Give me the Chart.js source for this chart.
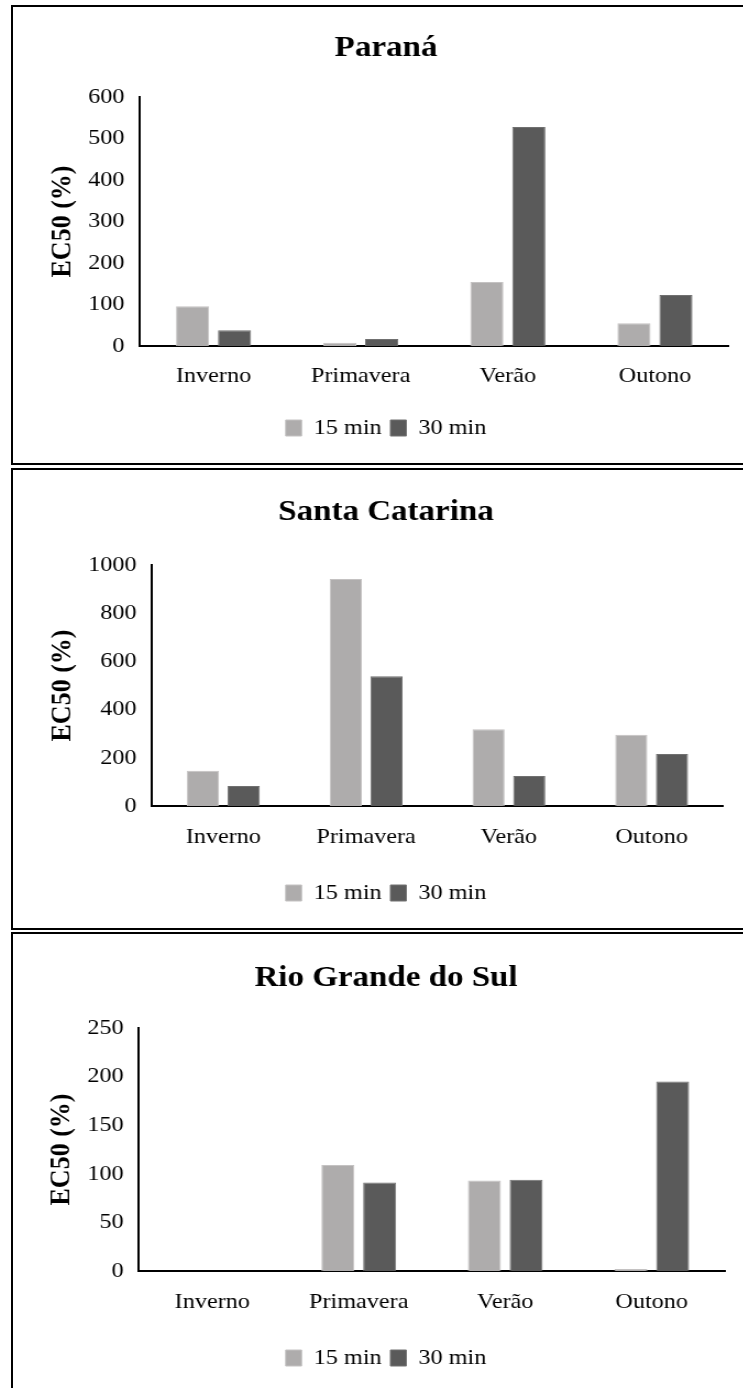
<!DOCTYPE html>
<html>
<head>
    <title>EC50 por estação</title>
    <script src="https://cdn.jsdelivr.net/npm/chart.js"></script>
    <style>
        html, body { margin: 0; padding: 0; background: #fff; }
        body { position: relative; width: 743px; height: 1388px; overflow: hidden; }
        .panel { position: absolute; left: 11px; width: 800px; border: 2px solid #000; box-sizing: border-box; }
        .wrap { position: absolute; left: 12px; transform: scaleX(1.1); transform-origin: 0 0; }
        .wrap canvas { display: block; }
    </style>
</head>
<body>
    <div class="panel" style="top:5px; height:460px;"></div>
    <div class="panel" style="top:468px; height:462px;"></div>
    <div class="panel" style="top:932px; height:500px;"></div>

    <div class="wrap" style="top:6px;"><canvas id="chartPR" width="680" height="458"></canvas></div>
    <div class="wrap" style="top:470px;"><canvas id="chartSC" width="680" height="458"></canvas></div>
    <div class="wrap" style="top:934px;"><canvas id="chartRS" width="680" height="454"></canvas></div>

    <script>
        // data
        const categories = ['Inverno', 'Primavera', 'Verão', 'Outono'];
        const seriesNames = ['15 min', '30 min'];

        const parana15 = [96, 8, 154, 55];
        const parana30 = [38, 17, 528, 123];
        const paranaTicks = [0, 100, 200, 300, 400, 500, 600];

        const santaCatarina15 = [146, 942, 318, 296];
        const santaCatarina30 = [83, 538, 124, 216];
        const santaCatarinaTicks = [0, 200, 400, 600, 800, 1000];

        const rioGrande15 = [0, 109, 93, 2];
        const rioGrande30 = [0, 91, 94, 195];
        const rioGrandeTicks = [0, 50, 100, 150, 200, 250];

        // look
        const FONT = "'Liberation Serif', 'Times New Roman', serif";
        const SX = 1.1;      // horizontal stretch of the original picture
        const LEFT = 12;     // page x of every canvas
        const TICK_SIZE = 22;
        const TITLE_SIZE = 30;
        const YTITLE_SIZE = 26;
        const LEG_PAD = 8;
        const color15 = '#AEACAC';
        const color30 = '#5A5A5A';

        function makeChart(id, title, d15, d30, ticks, g) {
            const canvas = document.getElementById(id);
            const W = canvas.width, H = canvas.height;
            const pl = (g.plotLeft - LEFT) / SX;
            const pr = (g.plotRight - LEFT) / SX;
            const pt = g.plotTop - g.top;
            const pb = g.plotBottom - g.top;
            const titleLH = TITLE_SIZE * 1.2;
            const ty = g.titleY - g.top;
            const legendTop = (g.legendY - g.top) - LEG_PAD - TICK_SIZE / 2;
            const legendH = TICK_SIZE + LEG_PAD + 10;
            const yTitleLH = YTITLE_SIZE * 1.2;

            return new Chart(canvas.getContext('2d'), {
                type: 'bar',
                data: {
                    labels: categories,
                    datasets: [{
                        label: seriesNames[0],
                        data: d15,
                        backgroundColor: color15,
                        borderColor: '#C4C2C2',
                        borderWidth: 1,
                        categoryPercentage: 0.57,
                        barPercentage: 0.79
                    }, {
                        label: seriesNames[1],
                        data: d30,
                        backgroundColor: color30,
                        borderColor: '#707070',
                        borderWidth: 1,
                        categoryPercentage: 0.57,
                        barPercentage: 0.79
                    }]
                },
                options: {
                    responsive: false,
                    animation: false,
                    devicePixelRatio: 1,
                    layout: { padding: { left: 0, right: 0, top: 0, bottom: H - legendTop - legendH } },
                    plugins: {
                        tooltip: { enabled: false },
                        title: {
                            display: true,
                            text: title,
                            color: '#000',
                            font: { family: FONT, size: TITLE_SIZE, weight: 'bold', lineHeight: 1.2 },
                            padding: { top: ty - titleLH / 2, bottom: pt - ty - titleLH / 2 }
                        },
                        legend: {
                            position: 'bottom',
                            labels: {
                                color: '#000',
                                font: { family: FONT, size: TICK_SIZE },
                                boxWidth: 14.5,
                                boxHeight: 16,
                                padding: LEG_PAD
                            }
                        }
                    },
                    scales: {
                        x: {
                            grid: { display: false, drawTicks: false },
                            border: { display: true, color: '#000', width: 2 },
                            ticks: {
                                color: '#000',
                                font: { family: FONT, size: TICK_SIZE, lineHeight: 1.2 },
                                padding: (g.labelY - g.plotBottom) - TICK_SIZE * 0.6,
                                maxRotation: 0
                            },
                            afterFit: (scale) => { scale.height = legendTop - pb; }
                        },
                        y: {
                            min: ticks[0],
                            max: ticks[ticks.length - 1],
                            afterBuildTicks: (scale) => { scale.ticks = ticks.map(v => ({ value: v })); },
                            grid: { display: false, drawTicks: false },
                            border: { display: true, color: '#000', width: 2 },
                            ticks: {
                                color: '#000',
                                font: { family: FONT, size: TICK_SIZE },
                                padding: 14,
                                callback: (v) => String(v)
                            },
                            title: {
                                display: true,
                                text: 'EC50 (%)',
                                color: '#000',
                                font: { family: FONT, size: YTITLE_SIZE, weight: 'bold', lineHeight: 1.2 },
                                padding: { top: (g.yTitleX - LEFT) / SX - yTitleLH / 2, bottom: 0 }
                            },
                            afterFit: (scale) => { scale.width = pl; }
                        },
                        // empty axis that only reserves the space on the right
                        yRight: {
                            position: 'right',
                            display: true,
                            grid: { display: false, drawTicks: false },
                            border: { display: false },
                            ticks: { display: false },
                            afterFit: (scale) => { scale.width = W - pr; }
                        }
                    }
                }
            });
        }

        makeChart('chartPR', 'Paraná', parana15, parana30, paranaTicks, {
            top: 6, plotTop: 97, plotBottom: 346, plotLeft: 140, plotRight: 728.5,
            titleY: 48, labelY: 376, legendY: 428, yTitleX: 62.5
        });
        makeChart('chartSC', 'Santa Catarina', santaCatarina15, santaCatarina30, santaCatarinaTicks, {
            top: 470, plotTop: 565, plotBottom: 806, plotLeft: 152, plotRight: 723,
            titleY: 512, labelY: 837, legendY: 893, yTitleX: 62.5
        });
        makeChart('chartRS', 'Rio Grande do Sul', rioGrande15, rioGrande30, rioGrandeTicks, {
            top: 934, plotTop: 1028, plotBottom: 1271, plotLeft: 139, plotRight: 725,
            titleY: 978, labelY: 1302, legendY: 1358, yTitleX: 62
        });
    </script>
</body>
</html>
